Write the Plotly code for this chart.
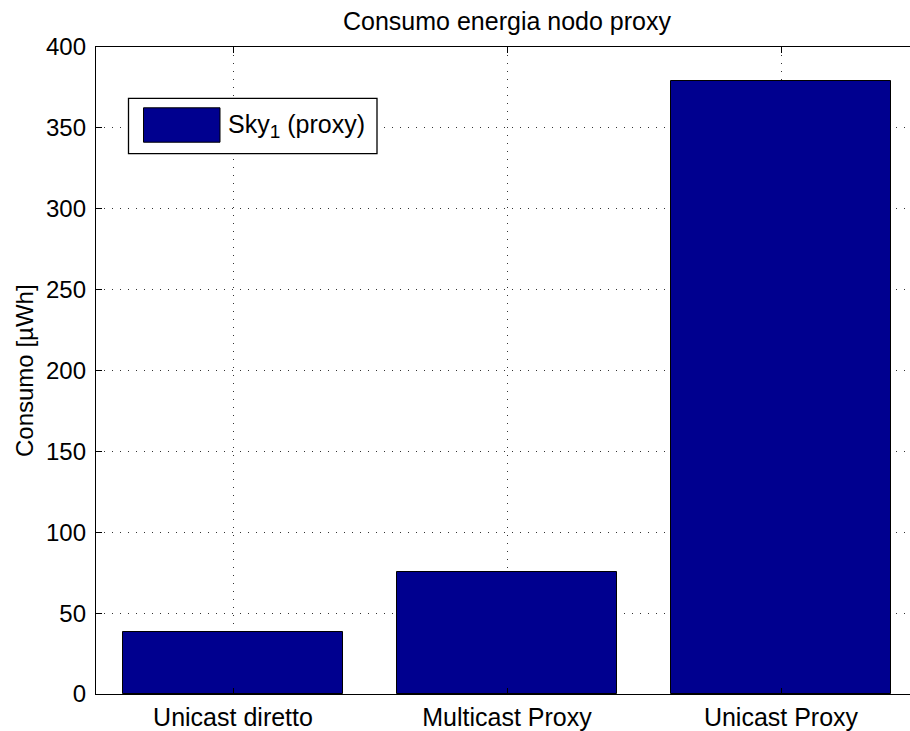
import plotly.graph_objects as go

# Energy consumption of the proxy node for each transmission scheme
categories = ["Unicast diretto", "Multicast Proxy", "Unicast Proxy"]
consumo_uwh = [38.3, 75.4, 378.7]
y_ticks = [0, 50, 100, 150, 200, 250, 300, 350, 400]
series_name = "Sky<sub><span style='font-size:19px'>1</span></sub> (proxy)"

W, H = 910, 731
M_LEFT, M_RIGHT, M_TOP, M_BOTTOM = 96, 0, 47, 35
FONT = "Liberation Sans, Arial, Helvetica, sans-serif"
BAR_COLOR = "#00008F"
FS = 24

plot_w = W - M_LEFT - M_RIGHT
plot_h = H - M_TOP - M_BOTTOM


def px_x(px):
    return (px - M_LEFT) / plot_w


def px_y(py):
    return (H - M_BOTTOM - py) / plot_h


x_pos = list(range(1, len(categories) + 1))

fig = go.Figure()
fig.add_trace(go.Bar(
    x=x_pos,
    y=consumo_uwh,
    width=0.8,
    marker=dict(color=BAR_COLOR, line=dict(color="black", width=1)),
    name=series_name,
    showlegend=False,
))

# Legend box drawn in the upper-left corner
fig.add_shape(type="rect", xref="paper", yref="paper",
              x0=px_x(128.5), x1=px_x(377), y0=px_y(154), y1=px_y(98.5),
              line=dict(color="black", width=1.3), fillcolor="white", layer="above")
fig.add_shape(type="rect", xref="paper", yref="paper",
              x0=px_x(143.5), x1=px_x(220), y0=px_y(142.5), y1=px_y(108),
              line=dict(color="black", width=1), fillcolor=BAR_COLOR, layer="above")
fig.add_annotation(xref="paper", yref="paper", x=px_x(226), y=px_y(126),
                   xanchor="left", yanchor="middle", showarrow=False,
                   text=series_name, font=dict(family=FONT, size=25, color="black"))

# Y axis label
fig.add_annotation(xref="paper", yref="paper", x=px_x(24.5), y=0.5,
                   xanchor="center", yanchor="middle", showarrow=False, textangle=-90,
                   text="Consumo [µWh]", font=dict(family=FONT, size=FS, color="black"))

axis_common = dict(
    showline=True, linecolor="black", linewidth=1.3,
    ticks="inside", ticklen=6, tickcolor="black", tickwidth=1,
    showgrid=True, gridcolor="#333333", gridwidth=1, griddash="1px,7px",
    zeroline=False,
)

fig.update_xaxes(
    **axis_common,
    range=[0.5, 0.5 + plot_w / 274.0],
    tickmode="array", tickvals=x_pos, ticktext=categories,
    tickfont=dict(family=FONT, size=25, color="black"),
    ticklabelstandoff=1,
    mirror="ticks",
)
fig.update_yaxes(
    **axis_common,
    range=[0, 400],
    tickmode="array", tickvals=y_ticks, ticktext=[str(v) for v in y_ticks],
    tickfont=dict(family=FONT, size=FS, color="black"),
    ticklabelstandoff=4,
    mirror=False,
)

fig.update_layout(
    width=W, height=H,
    margin=dict(l=M_LEFT, r=M_RIGHT, t=M_TOP, b=M_BOTTOM, pad=0),
    paper_bgcolor="white", plot_bgcolor="white",
    title=dict(text="Consumo energia nodo proxy", xref="paper", x=px_x(507), xanchor="center",
               yref="container", y=1 - 21 / H, yanchor="middle",
               font=dict(family=FONT, size=25, color="black")),
    font=dict(family=FONT, color="black"),
    bargap=0,
)

fig.write_html("out.html")
